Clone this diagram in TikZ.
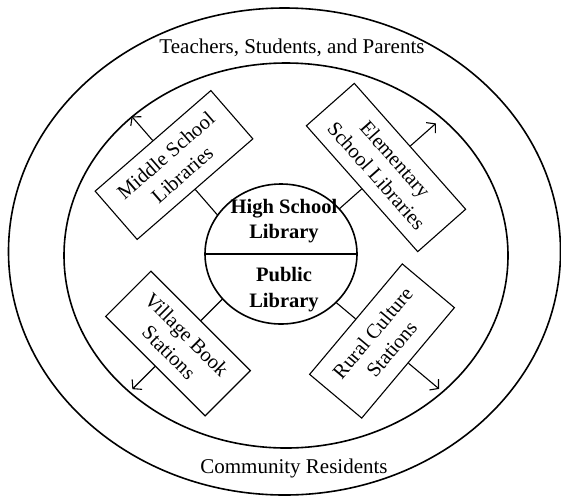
\documentclass[tikz,border=0pt]{standalone}
\usepackage{fontspec}
\setmainfont{Liberation Serif}
\usetikzlibrary{arrows.meta,calc,intersections,shapes.geometric}
\begin{document}
\begin{tikzpicture}[x=1pt,y=-1pt,
  ring/.style={draw, line width=1.6pt},
  libbox/.style={draw, line width=1.1pt, align=center, inner xsep=16pt, inner ysep=0pt,
    minimum height=64pt, font=\fontsize{20.5}{25}\selectfont},
  stub/.style={line width=1.1pt},
  outarr/.style={line width=1.1pt, -{Straight Barb[length=6pt,width=14pt,line width=1.1pt]}},
  ringlabel/.style={font=\fontsize{21}{25}\selectfont, anchor=base, inner sep=0pt},
  corelabel/.style={font=\bfseries\fontsize{20.5}{25}\selectfont, anchor=base, inner sep=0pt}]
\useasboundingbox (0,0) rectangle (561,496);
\fill[white] (0,0) rectangle (561,496);
% rings
\node[ellipse, ring, minimum width=552pt, minimum height=487pt, inner sep=0pt] (outer) at (284.5,251.5) {};
\node[ellipse, ring, minimum width=444pt, minimum height=385pt, inner sep=0pt] (middle) at (286,255.5) {};
\node[ellipse, ring, minimum width=152pt, minimum height=140pt, inner sep=0pt] (core) at (281,254) {};
\path[name path=coreP] (core.center) ellipse [x radius=76pt, y radius=70pt];
\draw[line width=1.4pt] (core.west) -- (core.east);
% labels
\node[ringlabel] (tsp) at (292,53) {Teachers, Students, and Parents};
\node[ringlabel] (cr) at (294,473) {Community Residents};
\node[corelabel] (hs1) at (284,213.5) {High School};
\node[corelabel] (hs2) at (284,238.5) {Library};
\node[corelabel] (pl1) at (284,281) {Public};
\node[corelabel] (pl2) at (284,307) {Library};
% boxes
\node[libbox, rotate=41] (ms) at (174,165) {Middle School\\Libraries};
\node[libbox, rotate=-48.5] (es) at (386,167.5) {Elementary\\School Libraries};
\node[libbox, rotate=-45] (vb) at (178,343.5) {Village Book\\Stations};
\node[libbox, rotate=50, minimum height=68pt] (rc) at (382,341) {Rural Culture\\Stations};
% stubs to the core
\coordinate (msF) at ($(ms.south)!90pt!180:(ms.north)$);
\coordinate (esF) at ($(es.south)!90pt!180:(es.north)$);
\coordinate (vbF) at ($(vb.north)!90pt!180:(vb.south)$);
\coordinate (rcF) at ($(rc.north)!90pt!180:(rc.south)$);
\path[name path=msL] (ms.south) -- (msF);
\path[name path=esL] (es.south) -- (esF);
\path[name path=vbL] (vb.north) -- (vbF);
\path[name path=rcL] (rc.north) -- (rcF);
\path[name intersections={of=coreP and msL, by=msI}];
\path[name intersections={of=coreP and esL, by=esI}];
\path[name intersections={of=coreP and vbL, by=vbI}];
\path[name intersections={of=coreP and rcL, by=rcI}];
\draw[stub] (ms.south) -- (msI);
\draw[stub] (es.south) -- (esI);
\draw[stub] (vb.north) -- (vbI);
\draw[stub] (rc.north) -- (rcI);
% outward arrows
\coordinate (msT) at ($(ms.north)!32pt!180:(ms.south)$);
\coordinate (esT) at ($(es.north)!34pt!180:(es.south)$);
\coordinate (vbT) at ($(vb.south)!32pt!180:(vb.north)$);
\coordinate (rcT) at ($(rc.south)!40pt!180:(rc.north)$);
\draw[outarr] (ms.north) -- (msT);
\draw[outarr] (es.north) -- (esT);
\draw[outarr] (vb.south) -- (vbT);
\draw[outarr] (rc.south) -- (rcT);
\end{tikzpicture}
\end{document}
